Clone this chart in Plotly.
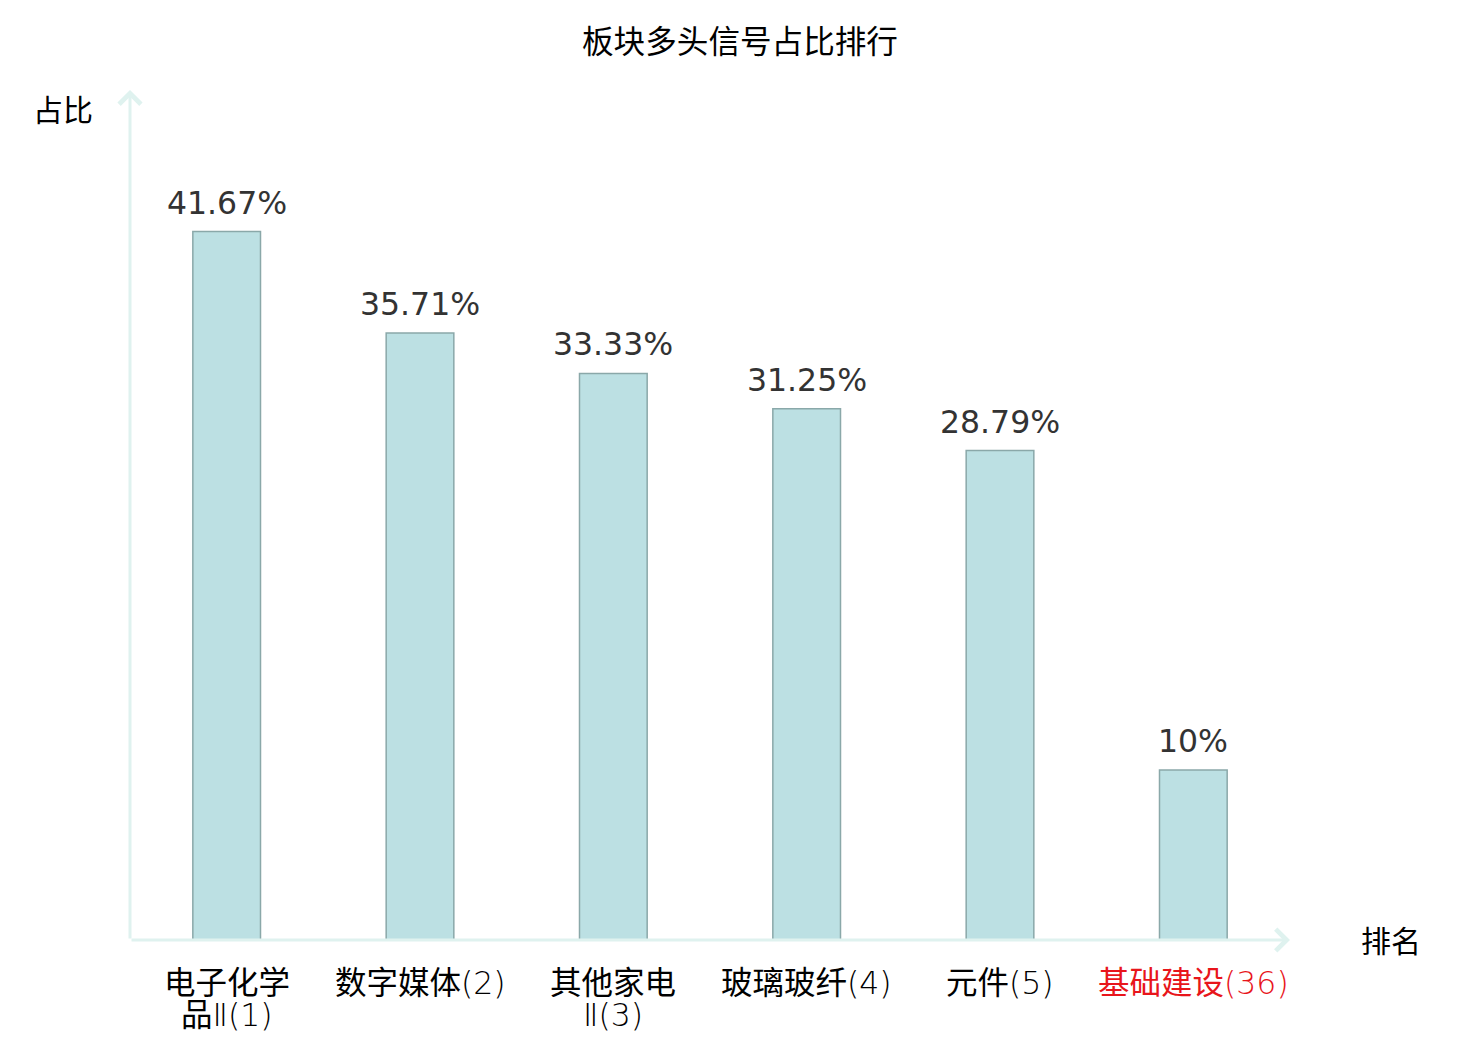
import re
import plotly.graph_objects as go

# 板块多头信号占比
sectors = ["电子化学<br>品Ⅱ(1)", "数字媒体(2)", "其他家电<br>Ⅱ(3)",
           "玻璃玻纤(4)", "元件(5)", "基础建设(36)"]
ratios = [41.67, 35.71, 33.33, 31.25, 28.79, 10]
highlight = [False, False, False, False, False, True]

AXIS_COLOR = "#dff2ef"
FONT = "DejaVu Sans, Noto Sans CJK SC, sans-serif"

# page has an 8px body margin, plot area wanted at x 130..1290, y 90..940
L, T, PW, PH = 122, 82, 1160, 850
W, H = 1480, 1040


def px_x(x):
    return (x - 8 - L) / PW


def px_y(y):
    return (T + PH - (y - 8)) / PH


def thin_latin(s):
    # digits, brackets and roman numerals are drawn lighter than the CJK text
    return re.sub(r"([\u2160-\u216f()0-9]+)",
                  r'<span style="font-weight:200">\1</span>', s)


xs = list(range(len(sectors)))

fig = go.Figure()
fig.add_trace(go.Bar(
    x=xs, y=ratios,
    width=0.35,
    marker=dict(color="#bce0e3", line=dict(color="#8aa8a9", width=1.5)),
    hoverinfo="skip",
))

# value labels above the bars
for x, v in zip(xs, ratios):
    fig.add_annotation(x=x, y=v, xref="x", yref="y", text="%g%%" % v,
                       xanchor="center", yanchor="middle", yshift=29,
                       showarrow=False,
                       font=dict(family=FONT, size=31.5, color="#333333"))

# axes drawn as arrows
fig.add_annotation(x=len(sectors) - 0.5, y=0, ax=-0.5, ay=0,
                   xref="x", yref="y", axref="x", ayref="y",
                   showarrow=True, arrowhead=4, arrowsize=1.4,
                   arrowwidth=3, arrowcolor=AXIS_COLOR, text="")
fig.add_annotation(x=-0.5, y=50, ax=-0.5, ay=0,
                   xref="x", yref="y", axref="x", ayref="y",
                   showarrow=True, arrowhead=4, arrowsize=1.4,
                   arrowwidth=3, arrowcolor=AXIS_COLOR, text="")

# axis names
fig.add_annotation(x=px_x(63), y=px_y(110), xref="paper", yref="paper", text="占比",
                   xanchor="center", yanchor="middle", showarrow=False,
                   font=dict(family=FONT, size=30, color="#000"))
fig.add_annotation(x=px_x(1391), y=px_y(941), xref="paper", yref="paper", text="排名",
                   xanchor="center", yanchor="middle", showarrow=False,
                   font=dict(family=FONT, size=30, color="#000"))

# category labels, one annotation per line to keep the tight line spacing
for x, name, hl in zip(xs, sectors, highlight):
    color = "#e8151b" if hl else "#000000"
    for i, line in enumerate(name.split("<br>")):
        fig.add_annotation(x=x, y=0, xref="x", yref="paper", text=thin_latin(line),
                           xanchor="center", yanchor="middle", showarrow=False,
                           yshift=-43 - 32 * i,
                           font=dict(family=FONT, size=31.5, color=color))

fig.update_layout(
    width=W, height=H,
    margin=dict(l=L, r=W - L - PW, t=T, b=H - T - PH),
    paper_bgcolor="white", plot_bgcolor="white",
    showlegend=False,
    title=dict(text="板块多头信号占比排行", x=(740 - 8) / W, xanchor="center",
               y=1 - 34 / H, yanchor="middle",
               font=dict(family=FONT, size=31.6, color="#000")),
    xaxis=dict(range=[-0.5, len(sectors) - 0.5], showgrid=False, zeroline=False,
               showline=False, showticklabels=False),
    yaxis=dict(range=[0, 50], showgrid=False, zeroline=False, showline=False,
               showticklabels=False),
)

fig.write_html("out.html")
